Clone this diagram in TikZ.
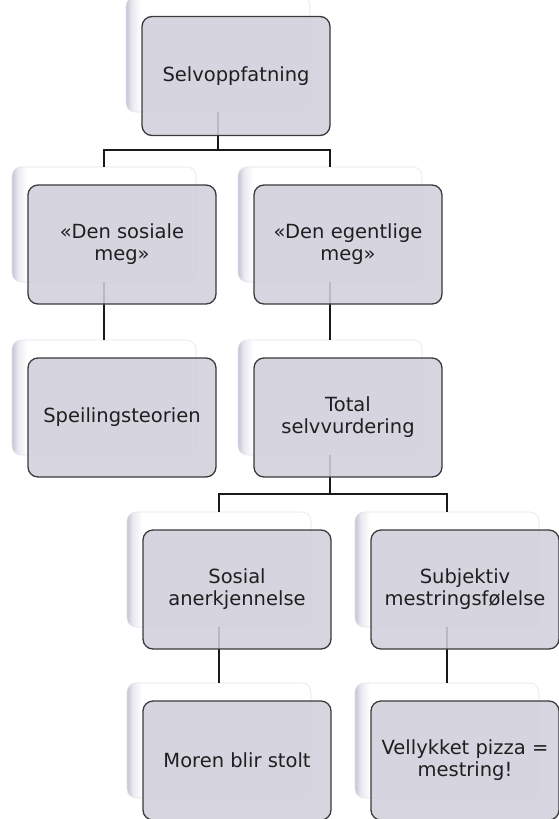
\documentclass[tikz,border=0pt]{standalone}
\usepackage{fontspec}
\setmainfont{DejaVu Sans}
\definecolor{frontfill}{RGB}{209,207,219}
\definecolor{frontline}{RGB}{58,58,58}
\definecolor{backline}{RGB}{228,228,234}
\definecolor{backshadow}{RGB}{196,196,212}
\definecolor{backmid}{RGB}{232,232,240}
\pgfdeclarehorizontalshading{backshade}{100bp}{color(0bp)=(backshadow); color(25bp)=(backshadow); color(26.5bp)=(backmid); color(29bp)=(white); color(100bp)=(white)}
\tikzset{
  backbox/.style={draw=backline, line width=0.6pt, rounded corners=9pt, minimum width=184pt, minimum height=115pt, shading=backshade, inner sep=0pt},
  frontbox/.style={draw=frontline, line width=1.3pt, fill=frontfill, fill opacity=0.88, text opacity=1, rounded corners=10pt, minimum width=188pt, minimum height=119pt, align=center, inner sep=2pt, font=\fontsize{19.5}{22}\selectfont, text=black!88},
  conn/.style={draw=black!90, line width=1.8pt}
}
\begin{document}
\begin{tikzpicture}[x=1pt,y=-1pt]
\useasboundingbox (0,0) rectangle (558,819);
% back boxes
\node[backbox] (topb) at (218,54.5) {};
\node[backbox] (sosb) at (104,224.5) {};
\node[backbox] (egeb) at (330,224.5) {};
\node[backbox] (speb) at (104,397.5) {};
\node[backbox] (totb) at (330,397.5) {};
\node[backbox] (anab) at (219,569.5) {};
\node[backbox] (subb) at (447,569.5) {};
\node[backbox] (morb) at (219,740.5) {};
\node[backbox] (pizb) at (447,740.5) {};
% connectors
\coordinate (j1) at (218,150);
\coordinate (j2) at (330,494);
\draw[conn] (topb.south) -- (j1);
\draw[conn] (j1) -| (sosb.north);
\draw[conn] (j1) -| (egeb.north);
\draw[conn] (sosb.south) -- (speb.north);
\draw[conn] (egeb.south) -- (totb.north);
\draw[conn] (totb.south) -- (j2);
\draw[conn] (j2) -| (anab.north);
\draw[conn] (j2) -| (subb.north);
\draw[conn] (anab.south) -- (morb.north);
\draw[conn] (subb.south) -- (pizb.north);
% front boxes
\node[frontbox] (top) at (236,76) {Selvoppfatning};
\node[frontbox] (sos) at (122,244.5) {«Den sosiale\\meg»};
\node[frontbox] (ege) at (348,244.5) {«Den egentlige\\meg»};
\node[frontbox] (spe) at (122,417.5) {Speilingsteorien};
\node[frontbox] (tot) at (348,417.5) {Total\\selvvurdering};
\node[frontbox] (ana) at (237,589.5) {Sosial\\anerkjennelse};
\node[frontbox] (sub) at (465,589.5) {Subjektiv\\mestringsfølelse};
\node[frontbox] (mor) at (237,760.5) {Moren blir stolt};
\node[frontbox] (piz) at (465,760.5) {Vellykket pizza =\\mestring!};
\end{tikzpicture}
\end{document}
